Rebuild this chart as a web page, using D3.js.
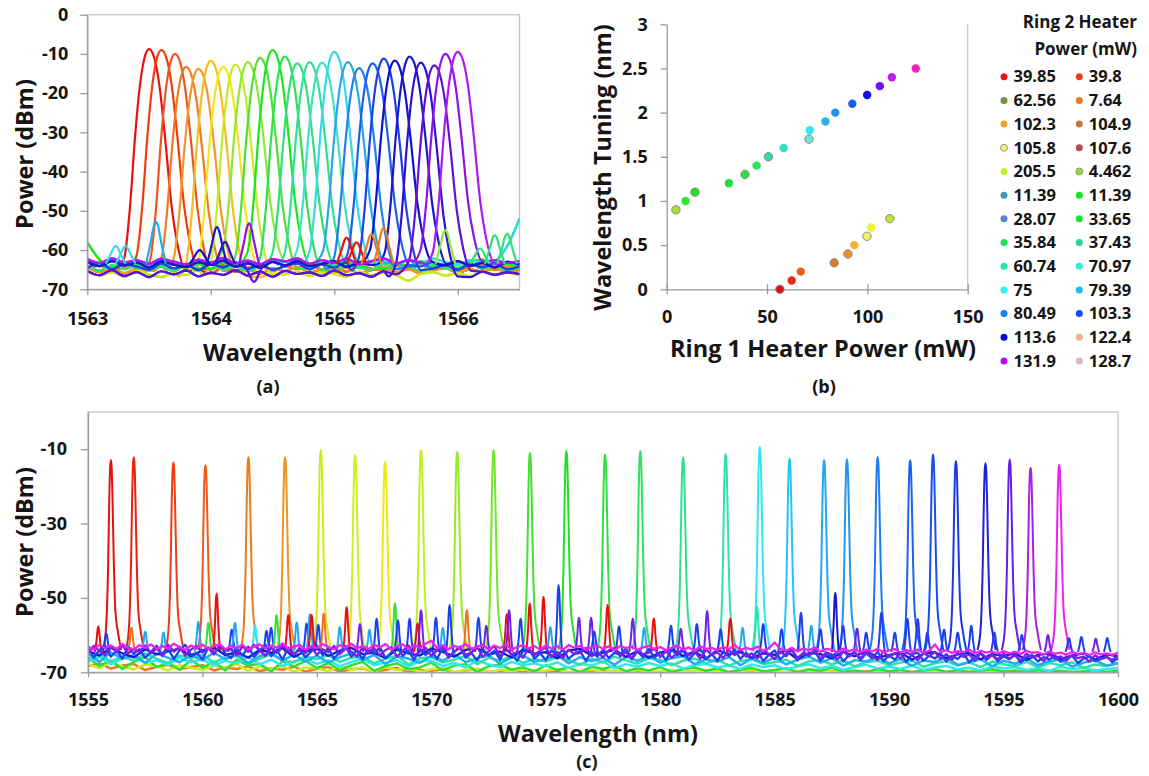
<!DOCTYPE html>
<html>
<head>
<meta charset="utf-8">
<script src="https://cdn.jsdelivr.net/npm/d3@7"></script>
<style>
body { margin: 0; background: #fff; }
svg text { font-family: "Open Sans", Lato, sans-serif; font-weight: 700; fill: #151515; }
</style>
</head>
<body>
<svg id="chart" width="1149" height="776"></svg>
<script>
// ---------- panel (a): 26 spectra, peak centre (nm) and peak power (dBm)
const peakWlA = [1563.50, 1563.60, 1563.71, 1563.80, 1563.90, 1564.00, 1564.10, 1564.20, 1564.30, 1564.40, 1564.50, 1564.60, 1564.70,
    1564.80, 1564.90, 1565.00, 1565.11, 1565.20, 1565.31, 1565.40, 1565.49, 1565.61, 1565.70, 1565.81, 1565.90, 1566.00];
const peakDbA = [-8.8, -9.0, -10.0, -13.3, -13.8, -11.7, -13.3, -12.7, -12.1, -11.0, -9.0, -10.7, -12.4,
    -12.1, -12.2, -9.5, -12.1, -13.6, -12.4, -11.2, -11.7, -10.7, -12.2, -12.9, -10.0, -9.5];
const colorsA = ['#e81010', '#f23c0a', '#f05420', '#f07a20', '#f09828', '#f8bc20', '#f0e820', '#c0ec20', '#90e830', '#50e030',
    '#18e818', '#30e050', '#30e078', '#30e098', '#40e0c8', '#30d8f0', '#28a8e8', '#2080f0', '#1860f0', '#1a40e8',
    '#1010d0', '#1818c8', '#2c10d8', '#6010d8', '#9010e8', '#b018f0'];
// measured line shape of the red peak: [offset nm, fraction of peak height above floor]
const shapeA = [[-0.26, 0], [-0.2, 0.06], [-0.154, 0.29], [-0.114, 0.6], [-0.073, 0.84], [-0.035, 0.965], [0, 1],
    [0.04, 0.965], [0.083, 0.84], [0.13, 0.6], [0.183, 0.29], [0.23, 0.12], [0.3, 0]];
// noise floors read every 0.1 nm from 1563.0 to 1566.5
const floorStartA = 1563.0, floorStepA = 0.1;
const warmA = [-64.2, -65.6, -64.5, -65.9, -64.8, -65.3, -64.1, -65.7, -64.6, -65.2, -65.9, -64.4, -65.5, -64.9, -66, -64.6, -65.4, -64.3,
    -65.8, -64.9, -65.6, -64.5, -65.9, -65.1, -64.4, -65.7, -64.8, -66, -65.2, -64.6, -65.8, -64.9, -65.5, -64.7, -65.6, -65];
const orangeA = [-65, -63.9, -65.2, -64.3, -63.8, -65.1, -64.6, -63.7, -65.3, -64.2, -64.9, -63.8, -65.2, -64.5, -63.9, -65.4, -64.1, -64.8,
    -63.6, -65, -64.4, -65.5, -63.9, -64.7, -65.2, -64, -64.9, -63.7, -65.1, -64.3, -65.4, -64.2, -63.8, -65, -64.4, -64.8];
const yellowA = [-65.4, -66.5, -65.7, -66.8, -65.3, -66.2, -66.9, -65.6, -66.4, -65.2, -66.7, -65.8, -66.3, -65.5, -66.9, -65.9, -66.2, -65.4,
    -66.6, -65.7, -66.1, -66.8, -65.5, -66.4, -65.8, -66.3, -67.8, -66.1, -65.6, -66.5, -65.9, -66.7, -65.4, -66.2, -65.8, -66.3];
const greenA = [-58, -62.5, -64.4, -63.1, -64.6, -63.3, -64.2, -62.9, -64.5, -63.6, -64.8, -63.2, -64.1, -62.8, -64.6, -63.5, -64.3, -63,
    -64.7, -63.4, -64.2, -62.9, -64.5, -63.7, -64.9, -63.3, -64, -62.8, -64.4, -63.5, -64.6, -63.1, -62.4, -64.3, -63.6, -64.5];
const tealA = [-64, -65.2, -63.8, -64.9, -63.5, -65.1, -64.3, -65.4, -63.9, -64.7, -63.6, -65, -64.2, -65.3, -63.8, -64.6, -65.2, -63.7,
    -64.8, -64.1, -65.3, -63.9, -64.5, -65, -63.6, -64.9, -64.2, -65.4, -63.8, -64.6, -65.1, -63.5, -64.8, -64, -65.2, -64.4];
const cyanA = [-62.4, -63.5, -62.2, -63.3, -62.7, -63.8, -62.5, -63.2, -63.9, -62.6, -63.4, -62.3, -63.6, -62.8, -63.9, -62.5, -63.1, -62.2,
    -63.7, -62.9, -63.5, -62.4, -63.8, -63, -62.3, -63.6, -62.7, -63.4, -62.2, -63.1, -63.7, -62.6, -63.3, -62.8, -59, -52];
const blueA = [-64.6, -63.3, -64.9, -63.6, -64.2, -65, -63.4, -64.7, -63.8, -65.1, -63.5, -64.4, -63.1, -64.8, -63.7, -65, -64.1, -63.4,
    -64.9, -63.6, -64.5, -63.2, -64.8, -64, -65.1, -63.5, -64.3, -63.2, -64.7, -63.8, -65, -63.6, -64.4, -63.3, -64.9, -64.1];
const navyA = [-63, -64.1, -62.8, -63.9, -63.2, -64.4, -62.9, -63.7, -64.3, -63.1, -63.8, -62.7, -64.2, -63.4, -64.5, -63, -63.9, -62.8,
    -64.1, -63.5, -62.9, -64.3, -63.2, -63.8, -64.4, -62.9, -63.6, -64.2, -63.1, -63.9, -62.8, -64, -63.3, -64.4, -63, -63.7];
const violetA = [-65.3, -66.4, -65.1, -66.6, -65.6, -66.9, -65.4, -66.2, -65.2, -66.7, -65.8, -66.3, -65.1, -66.5, -65.5, -66.8, -65.3, -66.1,
    -65.7, -66.6, -65.2, -66.4, -65.9, -66.8, -65.4, -66.2, -65.6, -66.7, -65.3, -66.5, -65.8, -66.9, -65.5, -66.3, -65.7, -66.1];
const purpleA = [-62.3, -63.3, -62.1, -63.1, -62.6, -63.5, -62.2, -63, -63.6, -62.4, -63.2, -62, -63.4, -62.7, -63.6, -62.3, -62.9, -62.1,
    -63.5, -62.6, -63.3, -62.2, -63.6, -62.8, -62.1, -63.4, -62.5, -63.2, -62, -62.9, -63.5, -62.4, -63.1, -62.6, -63.3, -62.8];
const floorsA = [warmA, orangeA, yellowA, greenA, tealA, cyanA, blueA, navyA, violetA, purpleA];
const floorOfA = [0, 1, 0, 1, 0, 2, 2, 2, 3, 3, 3, 4, 4, 5, 5, 5, 6, 6, 7, 6, 7, 7, 8, 8, 9, 9];
// small side bumps in the floor: [nm, dBm, colour]
const bumpsA = [[1563.23, -59, '#30d8f0'], [1563.31, -59, '#30d8f0'], [1563.556, -52.8, '#28a8e8'], [1563.91, -60, '#1010d0'],
    [1564.05, -54.1, '#1818c8'], [1564.115, -57.9, '#2c10d8'], [1564.31, -53.2, '#9010e8'], [1564.35, -68.1, '#6010d8'],
    [1565.10, -56.8, '#e81010'], [1565.18, -58, '#e81010'], [1565.30, -56, '#f07a20'], [1565.40, -54.3, '#f07a20'],
    [1565.9, -54.9, '#90e830'], [1566.18, -59.6, '#30e078'], [1566.30, -56.2, '#30e078'], [1566.40, -55.8, '#30e078']];
const bumpShape = [[-0.08, 0], [-0.04, 0.55], [-0.015, 0.92], [0, 1], [0.015, 0.92], [0.04, 0.55], [0.08, 0]];

// ---------- panel (b): tuning vs ring 1 heater power
const ring1Power = [56.4, 62.3, 66.8, 83.5, 90.3, 93.5, 99.8, 101.9, 111.2, 4.6, 9.4, 14.1, 31.0, 39.0, 44.8, 50.7, 58.3,
    70.9, 71.3, 79.1, 84.0, 92.5, 99.9, 106.2, 112.2, 124.1];
const tuning = [0, 0.1, 0.2, 0.3, 0.4, 0.5, 0.6, 0.7, 0.8, 0.9, 1.0, 1.1, 1.2, 1.3, 1.4, 1.5, 1.6, 1.7, 1.8, 1.9, 2.0, 2.1, 2.2, 2.3, 2.4, 2.5];
const colorsB = ['#e01020', '#e82a10', '#f05a18', '#e07a20', '#f09020', '#f8b030', '#f0f060', '#f0f040', '#b8e830', '#a8e030',
    '#30e830', '#20e020', '#20e040', '#30e040', '#30e060', '#30e0a0', '#30e0c0', '#70e8d0', '#30e8f8', '#30b0e8',
    '#2090f0', '#1a60f0', '#1010e0', '#7010e8', '#c020f0', '#f020b0'];
const outlinedB = [0, 3, 4, 6, 8, 9, 11, 13, 15, 17];
const legendTitle = ['Ring 2 Heater', 'Power (mW)'];
const legendLabels = ['39.85', '39.8', '62.56', '7.64', '102.3', '104.9', '105.8', '107.6', '205.5', '4.462', '11.39', '11.39',
    '28.07', '33.65', '35.84', '37.43', '60.74', '70.97', '75', '79.39', '80.49', '103.3', '113.6', '122.4', '131.9', '128.7'];
const legendColors = ['#e8141c', '#f03c14', '#7a9040', '#ec7a24', '#e8a428', '#c07840', '#f8f070', '#b04850', '#c0f028', '#90e020',
    '#4898b0', '#18e818', '#5a88c0', '#20e030', '#20e050', '#28d890', '#20e8b0', '#30f0d0', '#30f0f8', '#28b8f0',
    '#1880f0', '#1848f8', '#0808d8', '#f0b088', '#b010f0', '#d8b8bc'];
const legendOutlined = [6, 9];

// ---------- panel (c): 30 spectra over 1555-1600 nm
const peakWlC = [1556.00, 1557.00, 1558.73, 1560.13, 1562.01, 1563.61, 1565.17, 1566.67, 1567.98, 1569.55, 1571.13, 1572.72,
    1574.31, 1575.90, 1577.59, 1579.13, 1581.00, 1582.86, 1584.35, 1585.65, 1587.16, 1588.16, 1589.50, 1590.92, 1591.92,
    1592.92, 1594.21, 1595.27, 1596.18, 1597.43];
const peakDbC = [-12.9, -12.2, -13.5, -14.3, -12.2, -12.2, -10.2, -11.6, -13.4, -10.2, -10.7, -10.2, -11.0, -10.5, -11.4, -10.5,
    -12.2, -11.3, -9.4, -12.5, -12.9, -12.7, -12.1, -13.0, -11.4, -13.2, -13.8, -12.8, -15.0, -14.2];
const colorsC = ['#e81010', '#e82010', '#f03c10', '#f05a18', '#f07818', '#f09420', '#c8ec20', '#d4ec20', '#f0e810', '#c0f020',
    '#98ea20', '#70e828', '#40e030', '#20e020', '#30e040', '#30e060', '#30e090', '#30e0b4', '#30e8f0', '#28c4f0',
    '#22a8f0', '#2094f0', '#1a7cf0', '#1a62f0', '#1a4cf0', '#1a38e8', '#2020d8', '#6020e8', '#a820e8', '#f020f0'];
const shapeC = [[-0.35, 0], [-0.22, 0.1], [-0.12, 0.45], [-0.07, 0.8], [-0.03, 0.97], [0, 1], [0.03, 0.97], [0.07, 0.8],
    [0.13, 0.45], [0.2, 0.2], [0.3, 0.1], [0.45, 0]];
// noise floors from 1555 nm; lower ones read every 0.5 nm, the top ones every 0.25 nm
const floorStartC = 1555;
const magentaC = [-63.1, -63.9, -62.6, -63.5, -62.8, -63.7, -62.4, -63.3, -63.9, -62.7,
    -63.4, -62.5, -63.8, -62.9, -63.6, -62.3, -63.2, -64, -62.8, -63.5,
    -62.6, -63.7, -63, -62.4, -63.8, -62.9, -63.5, -62.6, -63.9, -63.1,
    -62.5, -63.6, -62.8, -63.4, -62.2, -63.7, -63.1, -62.6, -63.9, -62.9,
    -63.5, -62.4, -63.2, -63.8, -62.7, -63.4, -62.3, -63.6, -62.9, -63.8,
    -62.6, -63.3, -62.4, -63.9, -63, -62.5, -63.7, -62.8, -63.4, -62.3,
    -61.5, -63.5, -62.7, -63.8, -62.9, -63.4, -62.4, -63.7, -63.1, -62.6,
    -63.8, -62.8, -63.5, -62.5, -63.9, -63.2, -62.7, -63.6, -62.9, -63.9,
    -62.8, -63.6, -63, -63.9, -62.7, -63.4, -62.9, -64, -63.2, -62.8,
    -63.7, -63, -64.1, -62.9, -63.5, -63.1, -64, -63.3, -62.9, -63.8,
    -63.2, -64.1, -63.4, -62.9, -63.9, -63.3, -64.2, -63, -63.7, -63.4,
    -64.1, -63.2, -63.8, -62.6, -64, -63.4, -63.9, -63.1, -64.3, -63.5,
    -62, -63.8, -64.2, -63.4, -64.4, -63.6, -64.1, -63.3, -64.5, -63.7,
    -64, -64.6, -63.6, -64.3, -63.8, -64.7, -63.9, -64.4, -63.7, -64.6,
    -64.1, -63.8, -64.7, -64, -64.5, -63.9, -64.8, -64.2, -62.5, -64.6,
    -64, -64.8, -64.3, -64.6, -63.9, -64.9, -64.2, -64.7, -64.4, -65,
    -64.3, -64.9, -64.5, -65.1, -64.2, -64.8, -64.6, -65.2, -64.4, -65,
    -64.7, -65.3, -64.5, -65.1, -64.8, -65.4, -64.6, -65.2, -64.9, -65.3, -64.8];
const purpleC = [-64.8, -62.9, -64.3, -65.4, -63.1, -64.6, -62.7, -65, -63.8, -64.5,
    -62.8, -64.9, -63.6, -65.3, -62.6, -64.4, -63.2, -65.5, -63.9, -62.9,
    -64.7, -63.3, -65.2, -62.9, -64.2, -63.7, -65.5, -63, -64.5, -62.6,
    -64.1, -65.6, -63.4, -64.8, -62.7, -64.3, -65.2, -63.5, -64.9, -63.1,
    -65.3, -63.8, -64.6, -62.9, -65.1, -63.6, -64.4, -65.7, -63.2, -64.7,
    -63.5, -65.4, -64, -63.3, -65.8, -64.2, -62.8, -65.5, -64.5, -63.4,
    -65.6, -64.1, -63, -66, -64.4, -63.5, -65.3, -64.7, -63.1, -65.9,
    -64.3, -62.9, -65.7, -63.8, -65.1, -64.6, -66.1, -63.6, -65.4, -64.2,
    -63.3, -65.8, -64.5, -66.2, -63.9, -65.1, -64.8, -63.4, -65.6, -64.4,
    -66, -64.1, -63.5, -65.7, -64.6, -66.3, -63.9, -65.2, -64.7, -63.6,
    -65.9, -64.3, -66.1, -64.8, -63.8, -65.5, -64.4, -66.4, -63.9, -65.3,
    -64.6, -66.2, -64.1, -65.4, -63.7, -65.8, -64.9, -66.3, -64.2, -65.1,
    -66.5, -64.4, -65.7, -64, -66.1, -64.8, -65.3, -63.9, -66.4, -64.6,
    -65.2, -66.6, -64.3, -65.8, -64.7, -66.2, -64.5, -65.5, -66.7, -64.4,
    -65.9, -64.8, -66.3, -64.6, -65.4, -66.8, -64.9, -65.7, -64.5, -66.4,
    -65.1, -66.6, -64.7, -65.9, -65.2, -66.9, -64.8, -66.1, -65.4, -66.5,
    -64.9, -66.3, -65.5, -66.8, -65, -66, -65.6, -67, -65.2, -66.4,
    -65.7, -66.9, -65.3, -66.2, -65.8, -67.1, -65.4, -66.5, -65.9, -66.7, -65.5];
const blueC = [-63.5, -66, -64, -62.8, -65.8, -64.2, -66.3, -63.2, -65, -63.8,
    -66.1, -64.5, -62.9, -65.6, -63.7, -66.4, -64.1, -62.6, -65.3, -64.8,
    -66.5, -63.4, -65.1, -62.7, -64.9, -66.2, -63.6, -65.5, -63.1, -65.9,
    -64.3, -62.5, -65.7, -64, -66.6, -63.3, -65.2, -63.9, -66, -64.4,
    -62.8, -65.4, -63.5, -66.3, -64.6, -62.9, -65.8, -64.1, -66.5, -63.7,
    -65.1, -63.2, -66.2, -64.7, -63, -65.6, -64.2, -66.7, -63.8, -65.3,
    -64, -66.4, -63.4, -65.9, -64.5, -63.1, -66.1, -64.8, -66.8, -63.9,
    -65.5, -64.2, -66.6, -63.6, -65.2, -66.9, -64.4, -63.5, -66.3, -64.9,
    -66.7, -64.1, -65.6, -63.8, -66.4, -65, -64.3, -66.9, -64.6, -65.8,
    -63.9, -66.2, -64.7, -65.3, -63.6, -66.5, -64.4, -65.9, -63.8, -66.1,
    -64.6, -66.8, -63.9, -65.4, -64.2, -66.6, -64.9, -63.7, -66.3, -65.1,
    -66.9, -64.5, -65.7, -63.9, -66.4, -64.8, -66.1, -64.2, -67, -65.3,
    -64.1, -66.5, -65, -63.8, -66.8, -64.7, -65.6, -64.3, -66.9, -65.2,
    -65.8, -64.4, -67.1, -65.3, -64.6, -66.7, -64.9, -66.2, -64.5, -67,
    -65.4, -66.6, -64.8, -67.2, -65.1, -64.7, -66.9, -65.5, -66.3, -64.9,
    -67.1, -65.6, -66.4, -65, -67.3, -65.8, -64.9, -66.7, -65.3, -67,
    -65.7, -66.5, -65.2, -67.4, -66, -65.4, -67.1, -65.9, -66.6, -65.5,
    -67.2, -66.1, -65.6, -67.5, -66.3, -65.8, -67, -66.4, -65.7, -67.3, -66.2];
const navyC = [-64.2, -65.5, -63.4, -64.9, -66, -63.8, -65.2, -64.4, -63.6, -65.7,
    -64.1, -63.3, -65.4, -64.6, -66.1, -63.9, -64.8, -63.5, -65.9, -64.3,
    -63.7, -65.6, -64.2, -63.4, -65.1, -64.7, -66.2, -63.8, -64.9, -65.5,
    -63.6, -64.5, -65.8, -64, -63.5, -65.3, -64.4, -66, -63.9, -65,
    -64.6, -66.3, -64.1, -63.7, -65.5, -64.8, -63.9, -65.9, -64.3, -66.1,
    -64.7, -63.8, -65.6, -64.4, -66.4, -64, -65.2, -64.6, -66.2, -64.9,
    -65.3, -64.2, -66.5, -64.8, -65.1, -66.3, -64.5, -65.7, -64.3, -66,
    -65.4, -64.7, -66.6, -65, -64.6, -66.2, -65.2, -64.8, -66.5, -65.1,
    -65.6, -64.9, -66.7, -65.3, -65, -66.4, -65.5, -64.9, -66.6, -65.2, -65.7];
const skyC = [-65, -67.2, -64.6, -66.4, -65.3, -67.5, -64.9, -66.1, -67.3, -65.4,
    -66.8, -64.7, -66.5, -65.1, -67.6, -65.6, -64.8, -66.9, -65.2, -67.1,
    -65.5, -67.4, -66, -64.9, -66.7, -65.3, -67.8, -65.7, -66.3, -67.5,
    -65.6, -66.9, -65.1, -67.3, -66.2, -65.4, -67.7, -66, -65.5, -67.2,
    -66.4, -65.3, -67.6, -65.9, -67, -66.1, -68, -65.8, -66.9, -65.6,
    -67.4, -66.2, -65.7, -67.8, -66.5, -67.2, -65.9, -68.1, -66.3, -67.5,
    -66, -67.9, -66.6, -65.8, -67.4, -66.2, -68.2, -66.7, -67.1, -65.9,
    -67.6, -66.4, -68.3, -66.8, -67.2, -66, -68, -67.3, -66.5, -68.4,
    -66.9, -67.7, -66.3, -68.1, -67, -66.6, -68.5, -67.4, -66.8, -68.2, -67.5];
const tealC = [-66.6, -65.2, -67.1, -65.8, -66.9, -64.9, -66.4, -67.5, -65.5, -66.2,
    -65.3, -67.4, -66, -65.6, -67.7, -66.3, -65.1, -66.8, -67.3, -65.7,
    -66.5, -65.4, -67.2, -66.1, -65.8, -67.6, -66.4, -65.5, -67.9, -66.2,
    -65.9, -67.3, -66.6, -65.6, -67.8, -66.1, -66.9, -65.7, -67.5, -66.4,
    -67.1, -65.9, -66.7, -68, -66.3, -67.4, -65.8, -66.8, -67.7, -66.2,
    -66.6, -68.1, -66.9, -66.3, -67.6, -66.5, -68.2, -67, -66.4, -67.8,
    -67.3, -66.6, -68.3, -67.1, -66.7, -67.9, -66.8, -68.4, -67.2, -66.9,
    -68.1, -67.4, -66.8, -68.5, -67.6, -67, -68.2, -67.3, -68.6, -67.1,
    -67.8, -68.4, -67.2, -68.7, -67.5, -68.1, -67.3, -68.8, -67.9, -68.3, -67.6];
const cyanC = [-67.2, -65.9, -67.8, -66.4, -65.6, -67.5, -66.8, -68, -66.1, -67.3,
    -66.5, -68.2, -66.9, -67.6, -65.8, -67.9, -66.6, -68.3, -67.1, -66.3,
    -67.7, -66.8, -68.4, -67.2, -66.5, -68.1, -67.4, -66.7, -68.5, -67,
    -66.9, -68.3, -67.5, -68.7, -66.8, -67.9, -68.6, -67.2, -68.1, -67.6,
    -68.4, -67.3, -68.8, -67.7, -68.2, -67.1, -68.9, -67.8, -68.5, -67.5,
    -68.3, -67.6, -69, -68.1, -67.7, -68.7, -68.2, -69.1, -67.9, -68.6,
    -68.1, -69.2, -68.4, -67.9, -68.9, -68.3, -69.3, -68.6, -68, -69,
    -68.5, -69.1, -68.2, -69.4, -68.7, -68.3, -69.2, -68.8, -69.5, -68.4,
    -69, -68.6, -69.4, -68.9, -69.6, -68.5, -69.2, -68.8, -69.5, -69.1, -68.9];
const greenC = [-66, -68.3, -66.8, -69.1, -67.2, -65.9, -68.6, -67.4, -69.3, -66.7,
    -68.8, -67.1, -69.5, -66.6, -68.2, -67.7, -69.8, -67, -68.5, -66.9,
    -68.9, -67.5, -69.4, -68.1, -67.2, -69.6, -68.3, -67.6, -69.2, -68.7,
    -67.4, -69.5, -68.2, -67.8, -69.9, -68.4, -67.9, -69.3, -68.6, -69.8,
    -68.1, -69.4, -68.7, -70, -68.5, -69.1, -68.3, -69.7, -68.9, -69.5,
    -68.6, -69.9, -69.2, -68.7, -69.6, -68.9, -70, -69.3, -68.8, -69.7,
    -69.4, -68.9, -70, -69.2, -69.6, -68.8, -69.8, -69.5, -70, -69.1,
    -69.7, -69.3, -70, -69.5, -69.1, -69.9, -69.4, -70, -69.6, -69.2,
    -69.8, -69.5, -70, -69.4, -69.9, -69.6, -70, -69.7, -69.4, -69.9, -69.6];
const yellowC = [-67.8, -68.9, -67.3, -68.5, -69.2, -67.9, -68.4, -69.5, -68.1, -68.8,
    -69.4, -68.2, -68.9, -67.8, -69.6, -68.5, -69.1, -68.3, -69.8, -68.7,
    -68.9, -69.7, -68.4, -69.3, -68.7, -69.9, -68.6, -69.4, -69, -69.8,
    -69.2, -68.8, -69.9, -69.4, -69, -70, -69.3, -69.7, -69.1, -69.9,
    -69.5, -69.2, -70, -69.6, -69.3, -69.9, -69.5, -70, -69.4, -69.8,
    -69.7, -69.4, -70, -69.6, -69.9, -69.5, -70, -69.7, -69.4, -69.9,
    -69.8, -70, -69.6, -69.9, -69.7, -70, -69.5, -69.8, -70, -69.7,
    -69.9, -69.6, -70, -69.8, -69.7, -70, -69.9, -69.6, -70, -69.8,
    -69.7, -70, -69.9, -69.8, -70, -69.7, -69.9, -70, -69.8, -69.9, -70];
const orangeC = [-68.3, -67.6, -69, -68.2, -67.8, -69.4, -68.5, -68, -69.2, -68.6,
    -68.1, -69.5, -68.7, -69.1, -68.4, -69.7, -68.9, -69.3, -68.5, -69.8,
    -69.1, -68.6, -69.8, -69.2, -68.9, -69.9, -69.3, -68.8, -70, -69.4,
    -69.6, -69.2, -70, -69.5, -69.1, -69.9, -69.7, -69.4, -70, -69.5,
    -69.8, -69.5, -70, -69.7, -69.9, -69.6, -70, -69.8, -69.5, -70,
    -69.9, -69.7, -70, -69.8, -69.6, -70, -69.9, -69.7, -70, -69.8,
    -69.9, -70, -69.7, -69.9, -70, -69.8, -70, -69.9, -69.7, -70,
    -69.8, -70, -69.9, -69.8, -70, -69.9, -69.7, -70, -69.9, -70,
    -69.8, -70, -69.9, -70, -69.8, -70, -69.9, -70, -69.8, -70, -69.9];
// drawn bottom to top: [values, step nm, colour]
const floorsC = [[orangeC, 0.5, '#f07a20'], [yellowC, 0.5, '#c8ee20'], [greenC, 0.5, '#30e030'], [cyanC, 0.5, '#30e8f0'],
    [tealC, 0.5, '#30e0a8'], [skyC, 0.5, '#20b0f0']];
const topFloorsC = [[navyC, 0.5, '#1818c8'], [blueC, 0.25, '#1a44f0'], [purpleC, 0.25, '#7a20e8'], [magentaC, 0.25, '#f020f0']];
// narrow spurs over the floor: [nm, dBm, colour]
const R = '#e81010', O = '#f07020', G = '#30e040', T = '#30e0b0', C = '#30e8f0', S = '#20a8f0', B = '#1a40f0', D = '#1818c8', P = '#7020e8';
const spikesC = [[1555.45, -57.7, R], [1555.8, -59.5, B], [1556.9, -58, O], [1557.5, -59, S], [1558.3, -59.2, S], [1559.82, -56.4, S],
    [1560.26, -56.7, G], [1560.62, -48.8, R], [1561.28, -58.5, B], [1561.42, -56.7, S], [1562.3, -57.5, C], [1562.8, -58.8, B],
    [1563.0, -58, B], [1563.24, -54.6, G], [1563.75, -54.6, R], [1564.12, -56.6, S], [1564.55, -56.9, B], [1564.7, -54.3, S],
    [1564.77, -54.6, R], [1565.06, -57.2, B], [1565.3, -54.2, O], [1566.0, -57.8, S], [1566.3, -52.5, R], [1566.88, -57, P],
    [1567.3, -58.5, S], [1567.61, -55.6, B], [1568.41, -51.5, G], [1568.54, -56, B], [1569.05, -55.6, B], [1569.4, -56.9, R],
    [1569.55, -53.3, P], [1570.2, -55.3, B], [1570.5, -58, S], [1570.8, -51.9, B], [1571.55, -53.3, O], [1572.06, -55.3, B],
    [1572.4, -57.5, P], [1573.3, -54.4, R], [1573.4, -53.3, P], [1573.9, -55.6, B], [1574.3, -51.5, R], [1574.9, -49.7, R],
    [1575.2, -57.8, S], [1575.56, -46.5, B], [1576.45, -55.3, P], [1576.98, -55.3, P], [1577.12, -59, B], [1577.7, -51.9, R],
    [1578.2, -57.6, B], [1578.8, -55.6, P], [1579.3, -58, S], [1579.72, -55.5, R], [1580.47, -57.5, B], [1580.9, -58.3, P],
    [1581.6, -57, B], [1582.05, -53.5, P], [1582.64, -58.4, B], [1583.06, -55.6, R], [1583.6, -58, S], [1584.23, -52.4, T],
    [1584.5, -57, B], [1585.3, -58.4, B], [1586.15, -54, B], [1586.6, -57.5, S], [1587.0, -58.4, B], [1587.65, -48.6, D],
    [1587.99, -57.5, B], [1588.6, -58.2, P], [1589.0, -59.3, B], [1589.66, -54, B], [1590.25, -59.3, B], [1590.8, -55.6, B],
    [1591.25, -55.7, B], [1591.67, -59.3, B], [1592.4, -58.5, B], [1593.0, -59.3, B], [1593.59, -57.5, B], [1594.6, -59.3, B],
    [1595.8, -60, B], [1596.94, -60, P], [1597.86, -60.8, B], [1598.4, -60.5, B], [1599.03, -61, P], [1599.53, -60.8, B]];
const spikeShape = [[-0.15, 0], [-0.07, 0.5], [-0.03, 0.9], [0, 1], [0.03, 0.9], [0.07, 0.5], [0.15, 0]];

// ---------- drawing
const svg = d3.select('#chart');
const axisColor = '#9a9a9a';

const styleAxis = (g, fs) => {
    g.select('.domain').attr('stroke', axisColor).attr('stroke-width', 1.3);
    g.selectAll('.tick line').attr('stroke', axisColor).attr('stroke-width', 1.3);
    g.selectAll('.tick text').attr('font-size', fs).attr('fill', '#151515');
};

// floor + one peak, the peak shape replaces the floor around its centre
const withPeak = (floor, start, step, center, peak, shape) => {
    const lo = center + shape[0][0];
    const hi = center + shape[shape.length - 1][0];
    const base = floor[Math.min(floor.length - 1, Math.round((center - start) / step))];
    const pts = floor.map((v, i) => [start + i * step, v]).filter(p => p[0] < lo - 0.01 || p[0] > hi + 0.01);
    shape.forEach(s => pts.push([center + s[0], base + (peak - base) * s[1]]));
    return pts.sort((a, b) => a[0] - b[0]);
};
const bump = (center, peak, base, shape) => shape.map(s => [center + s[0], base + (peak - base) * s[1]]);

const addTitle = (text, x, y, size, rotate) => {
    svg.append('text')
        .attr('transform', `translate(${x},${y})` + (rotate ? ' rotate(-90)' : ''))
        .attr('text-anchor', 'middle')
        .attr('dominant-baseline', 'central')
        .attr('font-size', size)
        .text(text);
};

// ===== (a)
const xA = d3.scaleLinear().domain([1563, 1566.5]).range([87.3, 519.5]);
const yA = d3.scaleLinear().domain([-70, 0]).range([289.3, 14.7]);

svg.append('clipPath').attr('id', 'clipA').append('rect')
    .attr('x', xA(1563)).attr('y', yA(0)).attr('width', xA(1566.5) - xA(1563)).attr('height', yA(-70) - yA(0));
svg.append('rect')
    .attr('x', xA(1563)).attr('y', yA(0)).attr('width', xA(1566.5) - xA(1563)).attr('height', yA(-70) - yA(0))
    .attr('fill', 'none').attr('stroke', '#c4c4c4').attr('stroke-width', 1.3);

const lineA = d3.line().x(d => xA(d[0])).y(d => yA(d[1])).curve(d3.curveMonotoneX);
const gA = svg.append('g').attr('clip-path', 'url(#clipA)');
peakWlA.forEach((wl, i) => {
    gA.append('path')
        .attr('d', lineA(withPeak(floorsA[floorOfA[i]], floorStartA, floorStepA, wl, peakDbA[i], shapeA)))
        .attr('fill', 'none').attr('stroke', colorsA[i]).attr('stroke-width', 2.2).attr('stroke-linejoin', 'round');
});
bumpsA.forEach(b => {
    gA.append('path')
        .attr('d', lineA(bump(b[0], b[1], -63.5, bumpShape)))
        .attr('fill', 'none').attr('stroke', b[2]).attr('stroke-width', 2.2);
});

const axLA = svg.append('g').attr('transform', `translate(${xA(1563)},0)`)
    .call(d3.axisLeft(yA).tickValues(d3.range(-70, 1, 10)).tickFormat(d => d).tickSize(7).tickSizeOuter(0).tickPadding(12));
styleAxis(axLA, 18);
const axBA = svg.append('g').attr('transform', `translate(0,${yA(-70)})`)
    .call(d3.axisBottom(xA).tickValues([1563, 1564, 1565, 1566]).tickFormat(d => d).tickSize(6).tickSizeOuter(0));
styleAxis(axBA, 18);
axBA.selectAll('.tick text').attr('y', 29).attr('dy', '0.35em');

addTitle('Power (dBm)', 24, 154, 23.5, true);
addTitle('Wavelength (nm)', 303, 351.7, 23.5, false);
addTitle('(a)', 268, 386, 18, false);

// ===== (b)
const xB = d3.scaleLinear().domain([0, 150]).range([666.7, 967.7]);
const yB = d3.scaleLinear().domain([0, 3]).range([289.3, 24.3]);

svg.append('line').attr('x1', xB(150)).attr('x2', xB(150)).attr('y1', yB(3)).attr('y2', yB(0))
    .attr('stroke', '#c8c8c8').attr('stroke-width', 1.3);
const axLB = svg.append('g').attr('transform', `translate(${xB(0)},0)`)
    .call(d3.axisLeft(yB).tickValues([0, 0.5, 1, 1.5, 2, 2.5, 3]).tickFormat(d => d).tickSize(6).tickSizeOuter(0).tickPadding(13));
styleAxis(axLB, 18);
const axBB = svg.append('g').attr('transform', `translate(0,${yB(0)})`)
    .call(d3.axisBottom(xB).tickValues([0, 50, 100, 150]).tickSize(5).tickSizeOuter(0));
styleAxis(axBB, 18);
axBB.selectAll('.tick line').attr('y1', -5).attr('y2', 5);
axBB.selectAll('.tick text').attr('y', 27.4).attr('dy', '0.35em');

svg.append('g').selectAll('circle').data(ring1Power).join('circle')
    .attr('cx', d => xB(d))
    .attr('cy', (d, i) => yB(tuning[i]))
    .attr('r', 4.2)
    .attr('fill', (d, i) => colorsB[i])
    .attr('stroke', (d, i) => outlinedB.includes(i) ? '#8a8a8a' : 'none')
    .attr('stroke-width', 1);

addTitle('Wavelength Tuning (nm)', 602, 167.5, 23.5, true);
addTitle('Ring 1 Heater Power (mW)', 823, 348.3, 23.5, false);
addTitle('(b)', 824, 386, 18, false);

// legend
legendTitle.forEach((t, i) => {
    svg.append('text').attr('x', 1137).attr('y', [21.7, 48][i])
        .attr('text-anchor', 'end').attr('dominant-baseline', 'central').attr('font-size', 17).text(t);
});
const legend = svg.append('g').selectAll('g').data(legendLabels).join('g')
    .attr('transform', (d, i) => `translate(${i % 2 === 0 ? 1004 : 1079.3},${76.7 + Math.floor(i / 2) * 23.69})`);
legend.append('circle').attr('r', 3.5)
    .attr('fill', (d, i) => legendColors[i])
    .attr('stroke', (d, i) => legendOutlined.includes(i) ? '#999' : 'none');
legend.append('text').attr('x', 9.5).attr('dy', '0.35em').attr('font-size', 16.5).text(d => d);

// ===== (c)
const xC = d3.scaleLinear().domain([1555, 1600]).range([88, 1118]);
const yC = d3.scaleLinear().domain([-70, 0]).range([672.3, 412]);

svg.append('clipPath').attr('id', 'clipC').append('rect')
    .attr('x', xC(1555)).attr('y', yC(0)).attr('width', xC(1600) - xC(1555)).attr('height', yC(-70) - yC(0));
svg.append('rect')
    .attr('x', xC(1555)).attr('y', yC(0)).attr('width', xC(1600) - xC(1555)).attr('height', yC(-70) - yC(0))
    .attr('fill', 'none').attr('stroke', '#c4c4c4').attr('stroke-width', 1.3);

const lineC = d3.line().x(d => xC(d[0])).y(d => yC(d[1])).curve(d3.curveMonotoneX);
const lineCLin = d3.line().x(d => xC(d[0])).y(d => yC(d[1]));
const gC = svg.append('g').attr('clip-path', 'url(#clipC)');
const floorPts = (f, step) => f.map((v, i) => [floorStartC + i * step, v]);

peakWlC.forEach((wl, i) => {
    gC.append('path')
        .attr('d', lineC(bump(wl, peakDbC[i], -64, shapeC)))
        .attr('fill', 'none').attr('stroke', colorsC[i]).attr('stroke-width', 2).attr('stroke-linejoin', 'round');
});
floorsC.forEach(f => {
    gC.append('path').attr('d', lineCLin(floorPts(f[0], f[1])))
        .attr('fill', 'none').attr('stroke', f[2]).attr('stroke-width', 2.5).attr('stroke-linejoin', 'round');
});
spikesC.forEach(s => {
    gC.append('path').attr('d', lineC(bump(s[0], s[1], -64.5, spikeShape)))
        .attr('fill', 'none').attr('stroke', s[2]).attr('stroke-width', 2);
});
topFloorsC.forEach(f => {
    gC.append('path').attr('d', lineCLin(floorPts(f[0], f[1])))
        .attr('fill', 'none').attr('stroke', f[2]).attr('stroke-width', 2.3).attr('stroke-linejoin', 'round');
});

const axLC = svg.append('g').attr('transform', `translate(${xC(1555)},0)`)
    .call(d3.axisLeft(yC).tickValues([-70, -50, -30, -10]).tickFormat(d => d).tickSize(7).tickSizeOuter(0).tickPadding(14));
styleAxis(axLC, 18);
const axBC = svg.append('g').attr('transform', `translate(0,${yC(-70)})`)
    .call(d3.axisBottom(xC).tickValues(d3.range(1555, 1601, 5)).tickFormat(d => d).tickSize(5).tickSizeOuter(0));
styleAxis(axBC, 18);
axBC.selectAll('.tick text').attr('y', 27.7).attr('dy', '0.35em');

addTitle('Power (dBm)', 24, 542, 23.5, true);
addTitle('Wavelength (nm)', 598, 733, 23.5, false);
addTitle('(c)', 587, 761, 18, false);
</script>
</body>
</html>
